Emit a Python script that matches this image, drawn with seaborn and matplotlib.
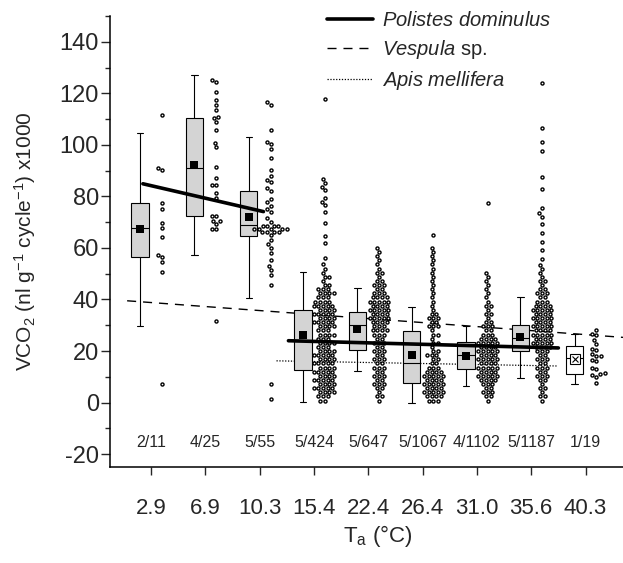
import numpy as np
import pandas as pd
import matplotlib
matplotlib.use('Agg')
from matplotlib import pyplot as plt
from matplotlib.lines import Line2D
from matplotlib.ticker import MultipleLocator
import seaborn as sns

sns.set_style('ticks')
plt.rcParams['font.family'] = ['Liberation Sans', 'DejaVu Sans']
plt.rcParams['mathtext.fontset'] = 'custom'
plt.rcParams['mathtext.rm'] = 'Liberation Sans'
plt.rcParams['mathtext.it'] = 'Liberation Sans:italic'
plt.rcParams['axes.unicode_minus'] = False

TEMPS = ['2.9', '6.9', '10.3', '15.4', '22.4', '26.4', '31.0', '35.6', '40.3']
N_LABELS = ['2/11', '4/25', '5/55', '5/424', '5/647', '5/1067', '4/1102', '5/1187', '1/19']

# box summaries per temperature
WHIS_LO = [29.8, 57.3, 40.4, 0.2, 12.4, 0.0, 6.4, 9.4, 7.2]
Q1 = [56.5, 72.4, 64.7, 12.6, 20.3, 7.6, 12.9, 19.9, 10.9]
MEDIAN = [67.8, 91.2, 68.8, 24.0, 30.1, 15.4, 18.4, 25.2, 17.2]
Q3 = [77.5, 110.6, 82.0, 35.9, 35.0, 27.9, 23.6, 30.1, 22.1]
WHIS_HI = [104.7, 127.2, 103.2, 50.6, 44.3, 37.0, 29.8, 40.9, 26.6]
MEANS = [67.4, 92.2, 71.9, 26.2, 28.4, 18.4, 18.2, 25.5, 16.8]

# individual measurements, sparse groups
PTS_2_9 = [111.7, 91.2, 90.3, 77.6, 75.0, 69.8, 67.6, 64.4, 57.3, 56.6, 54.7, 50.8, 7.4]
PTS_6_9 = [125.3, 124.5, 120.7, 117.5, 115.5, 113.6, 111.0, 110.5, 109.0, 105.8,
           100.7, 99.0, 91.3, 87.0, 84.4, 84.4, 81.5, 79.3, 72.3, 72.3, 70.4, 70.4,
           69.3, 67.3, 67.3, 31.6]
PTS_10_3 = [116.6, 115.3, 105.6, 101.3, 100.4, 98.4, 94.8, 90.3, 88.1, 86.4, 85.4,
            83.2, 82.1, 78.9, 77.7, 76.4, 75.1, 73.9, 71.5, 70.2,
            68.6, 68.6, 68.6, 68.6, 67.3, 67.3, 67.3, 67.3, 67.3,
            66.0, 66.0, 66.0, 66.0, 65.0, 63.1, 61.4, 59.9, 57.9, 55.3,
            53.1, 51.5, 49.5, 45.6, 7.1, 1.4]
PTS_40_3 = [28.2, 26.7, 26.3, 24.3, 22.8, 20.8, 20.4, 18.8, 18.0, 18.0, 16.5, 16.1,
            13.5, 13.0, 11.3, 10.9, 10.7, 10.0, 7.7]

# dense groups: markers per row, rows every 1.6 units starting at 0.8
ROW_STEP = 1.6
ROWS_15_4 = [2, 3, 4, 5, 4, 5, 4, 5, 4, 5, 4, 5, 4, 3, 4, 3, 4, 3, 4, 5, 4, 5,
             4, 5, 4, 3, 4, 3, 2, 1, 2, 1, 1, 1]
EXTRA_15_4 = [117.9, 86.7, 85.1, 83.8, 82.5, 79.3, 78.0, 76.7, 74.1, 69.6, 64.7,
              62.1, 56.0]
ROWS_22_4 = [1, 2, 1, 2, 3, 2, 3, 2, 3, 2, 3, 2, 3, 2, 3, 2, 3, 4, 3, 4, 5, 4,
             5, 4, 5, 4, 3, 2, 3, 2, 1, 2, 1, 1, 1, 1, 1, 1]
EXTRA_22_4 = []
ROWS_26_4 = [3, 4, 5, 4, 5, 4, 5, 4, 3, 2, 2, 3, 2, 1, 2, 1, 2, 1, 3, 2, 3, 2,
             1, 1, 1, 1, 1, 1, 1, 1, 1, 1, 1, 1, 1, 1, 1, 1]
EXTRA_26_4 = [65.0]
ROWS_31_0 = [1, 2, 3, 2, 3, 4, 5, 4, 5, 4, 5, 4, 5, 4, 5, 4, 3, 2, 3, 2, 1, 2,
             1, 2, 1, 1, 1, 1, 1, 1, 1, 1]
EXTRA_31_0 = [77.3]
ROWS_35_6 = [1, 2, 1, 2, 1, 2, 3, 2, 3, 2, 3, 2, 3, 4, 5, 4, 5, 4, 5, 4, 5, 4,
             5, 4, 3, 2, 3, 2, 1, 2, 1, 1, 1]
EXTRA_35_6 = [124.0, 106.5, 101.0, 97.7, 87.7, 82.8, 75.4, 73.5, 72.1, 69.2, 65.9,
              62.2, 59.2, 55.6, 53.5]

# fitted lines (category position, value)
POL_X1, POL_Y1 = [-0.15, 2.07], [84.9, 74.1]
POL_X2, POL_Y2 = [2.53, 7.50], [24.0, 21.2]
VES_X, VES_Y = [-0.44, 8.69], [39.5, 25.3]
API_X, API_Y = [2.31, 7.47], [16.2, 14.2]


def dense(rows, extra):
    levels = 0.8 + ROW_STEP * np.arange(len(rows))
    return np.concatenate([np.repeat(levels, rows), extra])


groups = [PTS_2_9, PTS_6_9, PTS_10_3,
          dense(ROWS_15_4, EXTRA_15_4), dense(ROWS_22_4, EXTRA_22_4),
          dense(ROWS_26_4, EXTRA_26_4), dense(ROWS_31_0, EXTRA_31_0),
          dense(ROWS_35_6, EXTRA_35_6), PTS_40_3]
df = pd.concat([pd.DataFrame({'pos': i + 0.2, 'val': np.asarray(g, float)})
                for i, g in enumerate(groups)], ignore_index=True)

fig = plt.figure(figsize=(6.23, 5.63), dpi=100)
ax = fig.add_axes([0.1766, 0.1705, 0.8234, 0.8011])

# dashed / dotted reference lines behind everything
sns.lineplot(x=VES_X, y=VES_Y, ax=ax, color='black', lw=1.0, zorder=1)
ax.lines[-1].set_dashes((6.5, 5))
sns.lineplot(x=API_X, y=API_Y, ax=ax, color='black', lw=0.9, zorder=1)
ax.lines[-1].set_linestyle((0, (1, 1.3)))

box_pos = np.arange(len(TEMPS)) - 0.2
stats = [dict(med=MEDIAN[i], q1=Q1[i], q3=Q3[i], whislo=WHIS_LO[i],
              whishi=WHIS_HI[i], fliers=[]) for i in range(len(TEMPS))]
bp = ax.bxp(stats, positions=box_pos, widths=0.32, patch_artist=True,
            showfliers=False, manage_ticks=False, capwidths=0.12,
            boxprops=dict(facecolor='#d4d4d4', edgecolor='black', linewidth=0.8),
            medianprops=dict(color='black', linewidth=0.8),
            whiskerprops=dict(color='black', linewidth=0.8),
            capprops=dict(color='black', linewidth=0.8))
bp['boxes'][-1].set_facecolor('white')
for k in bp:
    for art in bp[k]:
        art.set_zorder(2)

sns.swarmplot(data=df, x='pos', y='val', native_scale=True, orient='x', ax=ax,
              size=2.2, color='white', edgecolor='black', linewidth=1.0,
              zorder=3)

sns.scatterplot(x=box_pos[:-1], y=MEANS[:-1], marker='s', color='black',
                s=34, linewidth=0, ax=ax, zorder=3.5)
ax.plot(box_pos[-1], MEANS[-1], marker='s', ms=6.5, mfc='white', mec='black',
        mew=0.8, zorder=3.5)
ax.plot(box_pos[-1], MEANS[-1], marker='x', ms=4.5, color='black', mew=0.8,
        zorder=3.6)

sns.lineplot(x=POL_X1, y=POL_Y1, ax=ax, color='black', lw=2.6, zorder=4)
sns.lineplot(x=POL_X2, y=POL_Y2, ax=ax, color='black', lw=2.6, zorder=4)

for i, lab in enumerate(N_LABELS):
    ax.text(i, -15.6, lab, ha='center', va='center', fontsize=11.5)

ax.set_xlim(-0.755, 8.69)
ax.set_ylim(-25, 150)
ax.set_xticks(range(len(TEMPS)))
ax.set_xticklabels(TEMPS)
ax.set_yticks(range(-20, 141, 20))
ax.yaxis.set_minor_locator(MultipleLocator(10))
ax.tick_params(axis='x', length=6, width=1, pad=16, labelsize=16, direction='out')
ax.tick_params(axis='y', which='major', length=6.5, width=1, pad=1.5,
               labelsize=17, direction='out')
ax.tick_params(axis='y', which='minor', length=3.6, width=1, direction='out')
sns.despine(ax=ax)
for s in ['left', 'bottom']:
    ax.spines[s].set_linewidth(1.1)
    ax.spines[s].set_color('black')

ax.set_ylabel(r'VCO$_2$ (nl g$^{-1}$ cycle$^{-1}$) x1000', fontsize=15)
ax.yaxis.set_label_coords(-0.14, 0.5)
ax.set_xlabel(r'T$_\mathrm{a}$ (°C)', fontsize=16)
ax.xaxis.set_label_coords(0.522, -0.125)

handles = [Line2D([], [], color='black', lw=2.6),
           Line2D([], [], color='black', lw=1.0, dashes=(6.5, 5)),
           Line2D([], [], color='black', lw=0.9, linestyle=(0, (1, 1.3)))]
labels = [r'$\it{Polistes\ dominulus}$', r'$\it{Vespula}$ sp.', r'$\it{Apis\ mellifera}$']
ax.legend(handles, labels, loc='upper left', bbox_to_anchor=(0.525, 0.981),
          bbox_transform=fig.transFigure, frameon=False, fontsize=14.5,
          handlelength=2.28, handletextpad=0.45, labelspacing=0.4,
          borderpad=0, borderaxespad=0)

fig.savefig('out.png', dpi=100)
